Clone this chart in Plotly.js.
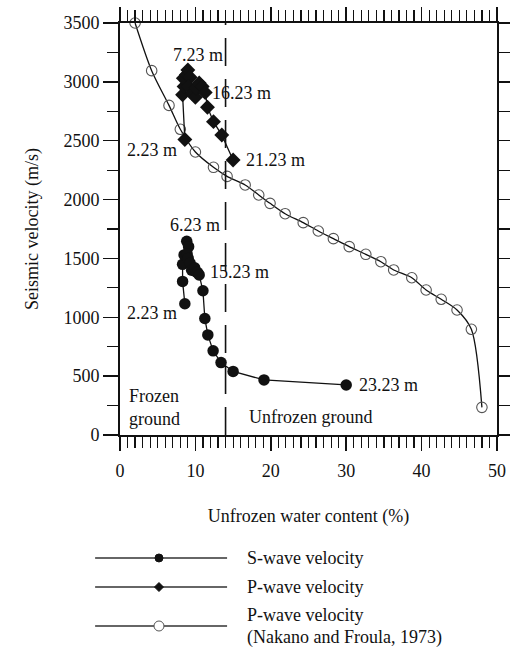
<!DOCTYPE html>
<html>
<head>
<meta charset="utf-8">
<script src="https://cdn.plot.ly/plotly-3.0.1.min.js"></script>
<style>
  html, body { margin: 0; padding: 0; background: #fff; }
  #chart { width: 510px; height: 648px; }
</style>
</head>
<body>
<div id="chart"></div>
<script>
// S-wave velocity vs unfrozen water content, depths 2.23 m to 23.23 m
const sWater = [8.6, 8.3, 8.3, 8.5, 8.85, 9.1, 8.9, 9.05, 9.3, 9.5, 9.9, 10.1, 10.3, 10.5,
                11.0, 11.25, 11.65, 12.35, 13.4, 15.0, 19.1, 30.0];
const sVel = [1115, 1305, 1450, 1530, 1645, 1600, 1540, 1500, 1460, 1400, 1420, 1385, 1380, 1360,
              1225, 990, 850, 715, 615, 540, 468, 425];

// P-wave velocity vs unfrozen water content, depths 2.23 m to 21.23 m
const pWater = [8.6, 8.3, 8.5, 8.4, 8.8, 9.0, 9.3, 9.1, 9.6, 10.0, 10.1, 10.5, 10.9, 11.3,
                11.6, 12.4, 13.5, 15.0];
const pVel = [2510, 2890, 2960, 3030, 3060, 3100, 3040, 2960, 2900, 2870, 2950, 2990, 2960, 2910,
              2785, 2662, 2548, 2336];

// P-wave velocity (Nakano and Froula, 1973)
const nWater = [2.0, 4.2, 6.5, 8.0, 10.0, 12.4, 14.2, 16.6, 18.4, 19.9, 21.9, 24.3, 26.3, 28.3,
                30.4, 32.6, 34.6, 36.3, 38.7, 40.6, 42.6, 44.7, 46.6, 48.0];
const nVel = [3500, 3095, 2800, 2597, 2404, 2274, 2197, 2124, 2039, 1968, 1880, 1804, 1733, 1668,
              1600, 1535, 1472, 1402, 1336, 1232, 1153, 1062, 898, 235];

// Depth labels: [text, water content, velocity]
const depthLabels = [
  ['7.23 m', 6.76, 3228],
  ['16.23 m', 11.94, 2905],
  ['2.23 m', 0.66, 2421],
  ['21.23 m', 16.45, 2336],
  ['6.23 m', 6.37, 1784],
  ['15.23 m', 11.67, 1385],
  ['2.23 m', 0.66, 1036],
  ['23.23 m', 31.4, 425]
];
const zoneLabels = [
  ['Frozen<br>ground', 0.93, 230],
  ['Unfrozen ground', 16.8, 155]
];
const boundaryWater = 14;

// Legend entries: one line of text per row
const legendLines = ['S-wave velocity', 'P-wave velocity', 'P-wave velocity',
                     '(Nakano and Froula, 1973)'];

const FONT = 'Liberation Serif, Times New Roman, serif';
const INK = '#111';
const FS = 18;

const traces = [
  {
    x: nWater, y: nVel, type: 'scatter', mode: 'lines+markers',
    line: { color: INK, width: 1.3, shape: 'spline', smoothing: 0.8 },
    marker: { symbol: 'circle-open', size: 10.5, color: '#555', line: { width: 1.1, color: '#555' } },
    cliponaxis: false, showlegend: false
  },
  {
    x: pWater, y: pVel, type: 'scatter', mode: 'lines+markers',
    line: { color: INK, width: 1.3 },
    marker: { symbol: 'diamond', size: 11.5, color: INK },
    cliponaxis: false, showlegend: false
  },
  {
    x: sWater, y: sVel, type: 'scatter', mode: 'lines+markers',
    line: { color: INK, width: 1.3 },
    marker: { symbol: 'circle', size: 11.5, color: INK },
    cliponaxis: false, showlegend: false
  }
];

const annotations = [];
depthLabels.forEach(([t, x, y]) => annotations.push({
  text: t, x: x, y: y, xref: 'x', yref: 'y', xanchor: 'left', yanchor: 'middle',
  showarrow: false, font: { family: FONT, size: FS, color: INK }
}));
zoneLabels.forEach(([t, x, y]) => annotations.push({
  text: t, x: x, y: y, xref: 'x', yref: 'y', xanchor: 'left', yanchor: 'middle', align: 'left',
  showarrow: false, font: { family: FONT, size: FS, color: INK }
}));

// Hand-drawn legend below the axes (paper coordinates)
const legRowY = [-0.2985, -0.369, -0.4636];
const legTextY = [-0.2985, -0.369, -0.4369, -0.4903];
const legX0 = -0.066, legX1 = 0.284, legMarkX = 0.1034, legTextX = 0.3316;

const shapes = [
  {
    type: 'line', xref: 'x', yref: 'y', x0: boundaryWater, x1: boundaryWater, y0: 0, y1: 3500,
    line: { color: INK, width: 1.6, dash: '28px,13px' }
  }
];
legRowY.forEach((y) => shapes.push({
  type: 'line', xref: 'paper', yref: 'paper', x0: legX0, x1: legX1, y0: y, y1: y,
  line: { color: '#333', width: 1.4 }
}));
// legend symbols
shapes.push({
  type: 'circle', xref: 'paper', yref: 'paper', xsizemode: 'pixel', ysizemode: 'pixel',
  xanchor: legMarkX, yanchor: legRowY[0], x0: -4, x1: 4, y0: -4, y1: 4,
  fillcolor: INK, line: { color: INK, width: 1 }
});
shapes.push({
  type: 'path', xref: 'paper', yref: 'paper', xsizemode: 'pixel', ysizemode: 'pixel',
  xanchor: legMarkX, yanchor: legRowY[1], path: 'M-4.5,0 L0,4.5 L4.5,0 L0,-4.5 Z',
  fillcolor: INK, line: { color: INK, width: 1 }
});
shapes.push({
  type: 'circle', xref: 'paper', yref: 'paper', xsizemode: 'pixel', ysizemode: 'pixel',
  xanchor: legMarkX, yanchor: legRowY[2], x0: -5, x1: 5, y0: -5, y1: 5,
  fillcolor: '#fff', line: { color: '#555', width: 1 }, layer: 'above'
});
legendLines.forEach((t, i) => annotations.push({
  text: t, x: legTextX, y: legTextY[i], xref: 'paper', yref: 'paper',
  xanchor: 'left', yanchor: 'middle', align: 'left', showarrow: false,
  font: { family: FONT, size: FS, color: INK }
}));

const layout = {
  width: 510, height: 648,
  margin: { l: 120, r: 13, t: 23, b: 213 },
  paper_bgcolor: '#fff', plot_bgcolor: '#fff',
  font: { family: FONT, size: FS, color: INK },
  showlegend: false,
  xaxis: {
    range: [0, 50], dtick: 10, tick0: 0,
    showgrid: false, zeroline: false,
    showline: true, linecolor: INK, linewidth: 1.8, mirror: 'ticks',
    ticks: 'outside', ticklen: 14, tickwidth: 1.5, tickcolor: INK,
    ticklabelstandoff: 5,
    minor: { dtick: 1, ticks: 'outside', ticklen: 11, tickwidth: 1.2, tickcolor: INK, showgrid: false },
    tickfont: { family: FONT, size: FS, color: INK },
    title: { text: 'Unfrozen water content (%)', font: { family: FONT, size: FS, color: INK }, standoff: 29 }
  },
  yaxis: {
    range: [0, 3500], dtick: 500, tick0: 0,
    showgrid: false, zeroline: false,
    showline: true, linecolor: INK, linewidth: 1.8, mirror: 'ticks',
    ticks: 'outside', ticklen: 15, tickwidth: 1.5, tickcolor: INK,
    minor: { dtick: 250, ticks: 'outside', ticklen: 11, tickwidth: 1.2, tickcolor: INK, showgrid: false },
    tickfont: { family: FONT, size: FS, color: INK },
    title: { text: 'Seismic velocity (m/s)', font: { family: FONT, size: FS, color: INK }, standoff: 20 }
  },
  shapes: shapes,
  annotations: annotations
};

Plotly.newPlot('chart', traces, layout, { displayModeBar: false, staticPlot: true });
</script>
</body>
</html>
